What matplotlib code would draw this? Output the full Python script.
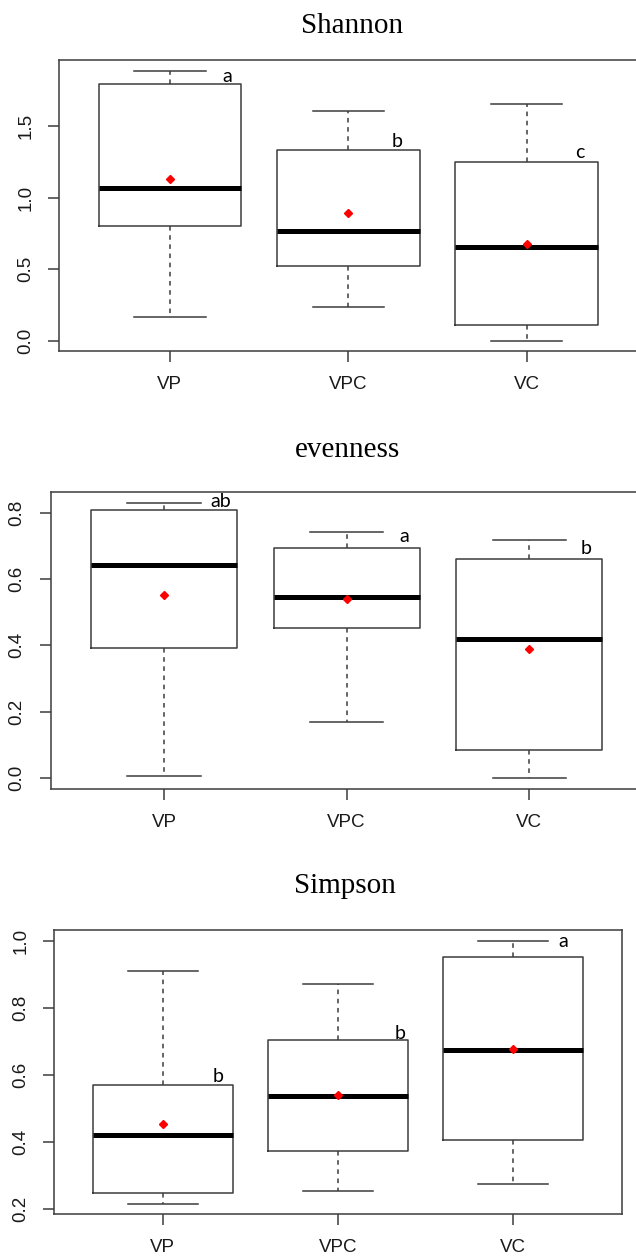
import matplotlib
matplotlib.use("Agg")
import matplotlib.pyplot as plt

# gruppi
groups = ['VP', 'VPC', 'VC']
positions = [1, 2, 3]

# Shannon
shannon_whislo = [0.168, 0.234, 0.0]
shannon_q1 = [0.802, 0.519, 0.110]
shannon_med = [1.068, 0.764, 0.652]
shannon_q3 = [1.794, 1.332, 1.250]
shannon_whishi = [1.885, 1.607, 1.657]
shannon_mean = [1.131, 0.890, 0.675]
shannon_letters = ['a', 'b', 'c']
shannon_letter_xy = [(1.32, 1.848), (2.276, 1.395), (3.299, 1.313)]
shannon_yticks = [0.0, 0.5, 1.0, 1.5]

# evenness
even_whislo = [0.004, 0.167, 0.0]
even_q1 = [0.391, 0.451, 0.084]
even_med = [0.642, 0.547, 0.419]
even_q3 = [0.808, 0.695, 0.661]
even_whishi = [0.830, 0.742, 0.719]
even_mean = [0.553, 0.540, 0.388]
even_letters = ['ab', 'a', 'b']
even_letter_xy = [(1.312, 0.834), (2.318, 0.729), (3.313, 0.691)]
even_yticks = [0.0, 0.2, 0.4, 0.6, 0.8]

# Simpson
simp_whislo = [0.216, 0.253, 0.275]
simp_q1 = [0.248, 0.373, 0.407]
simp_med = [0.421, 0.537, 0.673]
simp_q3 = [0.571, 0.703, 0.952]
simp_whishi = [0.910, 0.871, 1.0]
simp_mean = [0.455, 0.541, 0.677]
simp_letters = ['b', 'b', 'a']
simp_letter_xy = [(1.317, 0.594), (2.356, 0.725), (3.288, 0.999)]
simp_yticks = [0.2, 0.4, 0.6, 0.8, 1.0]

W, H = 636, 1258
fig = plt.figure(figsize=(W / 100, H / 100), dpi=100)
fig.patch.set_facecolor('white')

edge = '#3c3c3c'


def pannello(rect_px, title, title_xy, whislo, q1, med, q3, whishi, mean,
             letters, letter_xy, yticks):
    left, top, right, bottom = rect_px
    ax = fig.add_axes([left / W, 1 - bottom / H, (right - left) / W, (bottom - top) / H])
    stats = []
    for i, g in enumerate(groups):
        stats.append(dict(med=med[i], q1=q1[i], q3=q3[i], whislo=whislo[i],
                          whishi=whishi[i], fliers=[], label=g))
    ax.bxp(stats, positions=positions, widths=0.8, capwidths=0.4, showfliers=False,
           manage_ticks=False,
           boxprops=dict(color=edge, lw=1.1),
           whiskerprops=dict(color=edge, lw=1.1, linestyle=(0, (3, 3))),
           capprops=dict(color=edge, lw=1.1),
           medianprops=dict(color='black', lw=3.6, solid_capstyle='butt'))
    ax.plot(positions, mean, 'D', color='red', markersize=4.5, zorder=5)

    # limiti alla maniera di R (4% di margine)
    lo, hi = min(whislo), max(whishi)
    r = hi - lo
    ax.set_ylim(lo - 0.04 * r, hi + 0.04 * r)
    ax.set_xlim(0.38, 3.62)

    ax.set_xticks(positions)
    ax.set_xticklabels(groups)
    ax.set_yticks(yticks)
    ax.set_yticklabels(['%.1f' % v for v in yticks], rotation=90, va='center')
    for lab in ax.get_xticklabels() + ax.get_yticklabels():
        lab.set_fontfamily('Liberation Sans')
        lab.set_fontsize(13.5)
        lab.set_color('#1a1a1a')
    ax.tick_params(axis='both', length=8, width=1.1, color=edge, pad=10)
    for s in ax.spines.values():
        s.set_color(edge)
        s.set_linewidth(1.1)

    for lt, (x, y) in zip(letters, letter_xy):
        ax.text(x, y, lt, ha='center', va='center', fontsize=14,
                fontfamily='Lato', color='black')

    fig.text(title_xy[0] / W, 1 - title_xy[1] / H, title, ha='center', va='baseline',
             fontsize=21, fontfamily='Liberation Serif')
    return ax


pannello((59.3, 60.3, 637.3, 351.3), 'Shannon', (352.5, 33.3),
         shannon_whislo, shannon_q1, shannon_med, shannon_q3, shannon_whishi,
         shannon_mean, shannon_letters, shannon_letter_xy, shannon_yticks)

pannello((50.7, 492.0, 642.6, 788.7), 'evenness', (347, 457.3),
         even_whislo, even_q1, even_med, even_q3, even_whishi,
         even_mean, even_letters, even_letter_xy, even_yticks)

pannello((54.3, 930.3, 621.7, 1214.3), 'Simpson', (345, 893.3),
         simp_whislo, simp_q1, simp_med, simp_q3, simp_whishi,
         simp_mean, simp_letters, simp_letter_xy, simp_yticks)

fig.savefig('out.png', dpi=100, facecolor='white')
